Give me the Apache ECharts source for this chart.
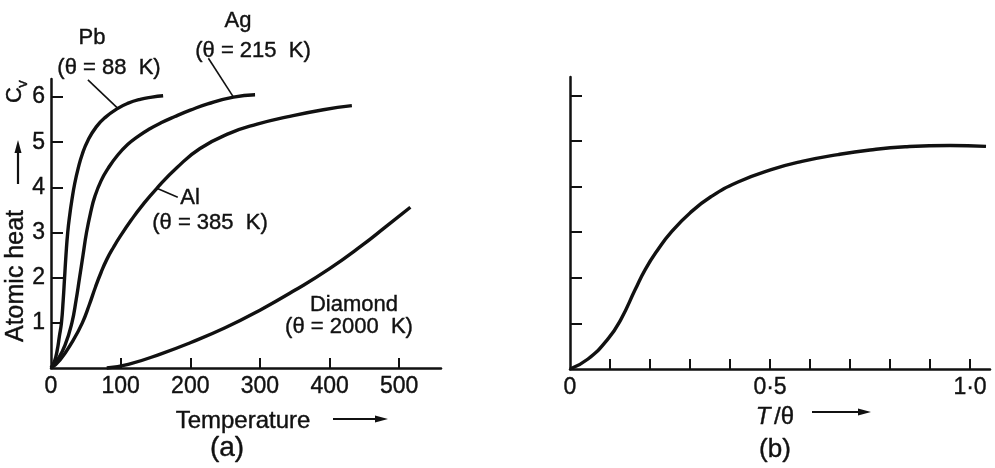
<!DOCTYPE html>
<html>
<head>
<meta charset="utf-8">
<script src="https://cdn.jsdelivr.net/npm/echarts@6/dist/echarts.min.js"></script>
<style>
  html, body { margin: 0; padding: 0; background: #fff; }
  #chart { width: 995px; height: 468px; }
</style>
</head>
<body>
<div id="chart"></div>
<script>
// Atomic heat (cal/mol·K) against temperature (K) for four solids, panel (a)
const pbCurve = [[0,0],[5,0.15],[9,0.4],[12,0.7],[15,1.0],[17.5,1.5],[19.5,2.0],[21.5,2.5],[24,3.0],[27,3.4],[30,3.72],[34,4.08],[39,4.42],[45,4.74],[53,5.04],[65,5.34],[78,5.55],[96,5.75],[110,5.86],[128,5.95],[145,6.0],[161,6.03]];
const agCurve = [[0,0],[10,0.2],[20,0.5],[30,1.0],[36,1.5],[41,2.0],[46,2.5],[51,3.0],[57,3.45],[63,3.8],[72,4.15],[82,4.42],[95,4.7],[110,4.95],[125,5.13],[140,5.28],[158,5.43],[178,5.57],[200,5.71],[225,5.85],[262,6.0],[293,6.05]];
const alCurve = [[0,0],[13,0.18],[32,0.62],[45,1.0],[55,1.4],[64,1.8],[72,2.12],[80,2.4],[90,2.68],[100,2.93],[115,3.27],[130,3.58],[152,3.98],[181,4.44],[214,4.86],[257,5.2],[296,5.4],[339,5.56],[391,5.72],[432,5.81]];
const diamondCurve = [[80,0],[111,0.08],[159,0.32],[200,0.56],[250,0.89],[300,1.28],[350,1.72],[400,2.2],[447,2.72],[480,3.12],[516,3.56]];

// Leader lines from each element's name to its curve
const pbLeader = [[53,6.38],[96,5.75]];
const agLeader = [[226,6.86],[262,6.0]];
const alLeader = [[152,3.98],[182,3.78]];

// Panel (b): atomic heat against reduced temperature T/θ
const reducedCurve = [[0,0],[0.045,0.22],[0.095,0.66],[0.128,1.1],[0.163,1.74],[0.188,2.18],[0.22,2.62],[0.253,3.0],[0.3,3.42],[0.353,3.78],[0.42,4.1],[0.503,4.37],[0.58,4.55],[0.67,4.7],[0.75,4.8],[0.838,4.87],[0.95,4.9],[1.04,4.88]];

const tempTicks = [0,100,200,300,400,500];
const heatTicks = [1,2,3,4,5,6];
const ratioTicks = [0.1,0.2,0.3,0.4,0.5,0.6,0.7,0.8,0.9,1.0];
const ratioLabels = [0,0.5,1.0];
const ratioLabelText = {0:'0', 0.5:'0·5', 1:'1·0'};

const FONT = '"Liberation Sans", Arial, sans-serif';
const INK = '#111';

const chart = echarts.init(document.getElementById('chart'), null, {renderer: 'canvas'});

function axisLine() { return {show: true, onZero: false, lineStyle: {color: INK, width: 2.5}}; }
const tickLabel = {fontFamily: FONT, fontSize: 23, color: INK, textBorderColor: INK, textBorderWidth: 0.4};

const curveStyle = {color: INK, width: 3.4};
function curve(data, xi) {
  return {type: 'line', xAxisIndex: xi, yAxisIndex: xi, data: data, smooth: 0.5,
    showSymbol: false, symbol: 'none', clip: false, silent: true, lineStyle: curveStyle, z: 3};
}
function leader(data) {
  return {type: 'line', xAxisIndex: 0, yAxisIndex: 0, data: data, showSymbol: false, symbol: 'none',
    clip: false, silent: true, lineStyle: {color: INK, width: 1.6}, z: 3};
}

function txt(text, x, y, size, opts) {
  opts = opts || {};
  return {type: 'text', x: x, y: y, rotation: opts.rotation || 0, silent: true,
    style: {text: text, font: (opts.italic ? 'italic ' : '') + size + 'px ' + FONT, fill: INK,
      stroke: INK, lineWidth: 0.4, align: 'center', verticalAlign: 'middle'}};
}
function arrow(x1, y1, x2, y2) {
  // shaft plus a slim head pointing toward (x2, y2)
  const dx = x2 - x1, dy = y2 - y1, len = Math.hypot(dx, dy), ux = dx / len, uy = dy / len;
  const hl = 13, hw = 3.5;
  const bx = x2 - ux * hl, by = y2 - uy * hl;
  return [
    {type: 'line', silent: true, shape: {x1: x1, y1: y1, x2: bx + ux * 2, y2: by + uy * 2}, style: {stroke: INK, lineWidth: 2.2}},
    {type: 'polygon', silent: true, shape: {points: [[bx - uy * hw, by + ux * hw], [x2, y2], [bx + uy * hw, by - ux * hw]]}, style: {fill: INK}}
  ];
}

const option = {
  backgroundColor: '#fff',
  animation: false,
  grid: [
    {left: 51, top: 79, width: 390, height: 289},
    {left: 570, top: 77, width: 420, height: 292}
  ],
  xAxis: [
    {type: 'value', gridIndex: 0, min: 0, max: 560, interval: 100,
      axisLine: axisLine(), splitLine: {show: false},
      axisTick: {show: true, inside: true, length: 10, customValues: tempTicks.slice(1), lineStyle: {color: INK, width: 2}},
      axisLabel: Object.assign({customValues: tempTicks, margin: 7}, tickLabel)},
    {type: 'value', gridIndex: 1, min: 0, max: 1.05, interval: 0.1,
      axisLine: axisLine(), splitLine: {show: false},
      axisTick: {show: true, inside: true, length: 10, customValues: ratioTicks, lineStyle: {color: INK, width: 2}},
      axisLabel: Object.assign({customValues: ratioLabels, margin: 7,
        formatter: v => ratioLabelText[v] !== undefined ? ratioLabelText[v] : ''}, tickLabel)}
  ],
  yAxis: [
    {type: 'value', gridIndex: 0, min: 0, max: 6.4, interval: 1,
      axisLine: axisLine(), splitLine: {show: false},
      axisTick: {show: true, inside: true, length: 12, customValues: heatTicks, lineStyle: {color: INK, width: 2}},
      axisLabel: Object.assign({customValues: heatTicks, margin: 6}, tickLabel)},
    {type: 'value', gridIndex: 1, min: 0, max: 6.4, interval: 1,
      axisLine: axisLine(), splitLine: {show: false},
      axisTick: {show: true, inside: true, length: 12, customValues: heatTicks, lineStyle: {color: INK, width: 2}},
      axisLabel: {show: false}}
  ],
  series: [
    curve(pbCurve, 0), curve(agCurve, 0), curve(alCurve, 0), curve(diamondCurve, 0),
    leader(pbLeader), leader(agLeader), leader(alLeader),
    curve(reducedCurve, 1)
  ],
  graphic: [
    // curve names
    txt('Pb', 92, 38, 22),
    txt('(θ = 88  K)', 109, 68, 22),
    txt('Ag', 238, 21, 22),
    txt('(θ = 215  K)', 253, 51, 22),
    txt('Al', 190, 198, 22),
    txt('(θ = 385  K)', 210, 223, 22),
    txt('Diamond', 354, 305, 22),
    txt('(θ = 2000  K)', 349, 327, 22),
    // panel (a) axis titles
    txt('Temperature', 243, 421, 24),
    ...arrow(333, 419, 388, 419),
    txt('(a)', 227, 448, 28),
    txt('Atomic heat', 16, 276, 25, {rotation: Math.PI / 2}),
    ...arrow(18, 184, 18, 140),
    txt('C', 15, 95, 22, {rotation: Math.PI / 2}),
    txt('v', 23, 84, 15, {rotation: Math.PI / 2}),
    // panel (b) axis titles
    txt('T', 763, 417, 24, {italic: true}),
    txt('/θ', 784, 417, 24),
    ...arrow(812, 412, 871, 412),
    txt('(b)', 775, 450, 26)
  ]
};

chart.setOption(option);
</script>
</body>
</html>
